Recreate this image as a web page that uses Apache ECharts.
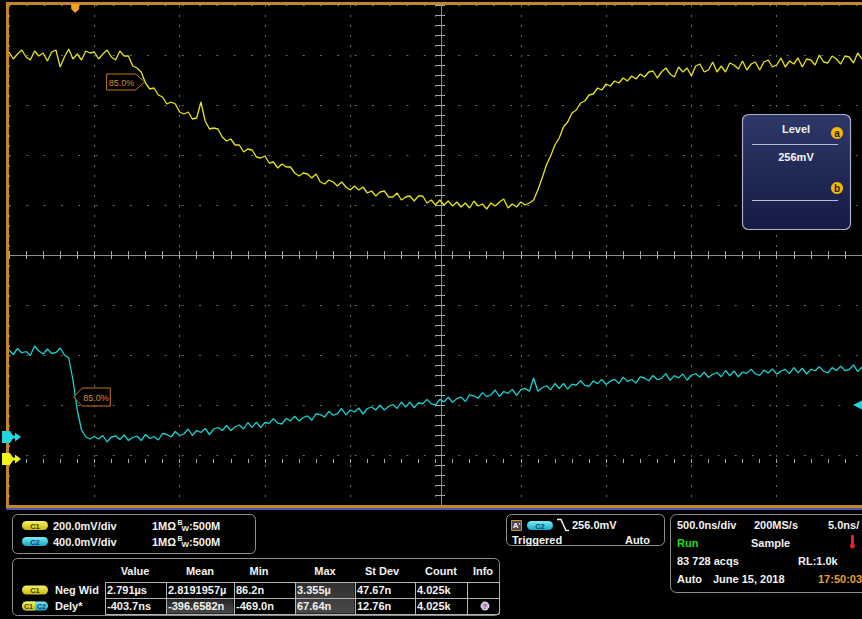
<!DOCTYPE html>
<html>
<head>
<meta charset="utf-8">
<script src="https://cdn.jsdelivr.net/npm/echarts@6/dist/echarts.min.js"></script>
<style>
  html, body { margin: 0; padding: 0; background: #000; overflow: hidden; }
  #scope { width: 862px; height: 619px; }
</style>
</head>
<body>
<div id="scope"></div>
<script>
// ---- Acquisition: 10 divisions of 500 ns, trace samples every 25 ns from the left edge ----
const SAMPLE_START_NS = -2500;
const SAMPLE_STEP_NS = 25;
const TIME_MIN_NS = -2500;
const TIME_MAX_NS = 2500;
const TIME_DIV_NS = 500;

// Channel 1 (yellow), mV
const ch1mV = [
  1628,1600,1620,1636,1608,1596,1632,1612,1624,1592,1628,1636,1568,1608,1640,1600,1620,1596,1632,1624,1628,1600,1620,1636,1608,1596,1632,1612,
  1612,1572,1564,1548,1504,1480,1484,1456,1448,1420,1428,1420,1388,1380,1388,1360,1364,1428,
  1352,1320,1324,1320,1288,1272,1280,1256,1256,1228,1240,1236,1208,1204,1212,1184,1188,1164,1180,1168,
  1168,1144,1132,1144,1140,1124,1140,1108,1100,1116,1108,1092,1108,1088,1076,1092,1076,1088,1064,1072,
  1052,1068,1072,1048,1048,1064,1036,1048,1052,1032,1052,1052,1024,1036,1016,
  1036,1016,1032,1012,1028,1008,1024,1004,1032,1012,1020,1000,1024,1012,1028,1040,1004,1020,1008,1028,1016,1024,
  1036,1076,1124,1176,1212,1256,1284,1328,1348,1384,1396,1424,1432,1456,1460,1484,1476,1500,1492,1512,1504,1524,1512,1532,1520,1540,1528,1548,
  1552,1524,1548,1564,1540,1528,1568,1548,1564,1532,1572,1580,1548,1556,1588,1548,1572,1548,1584,1576,
  1560,1592,1556,1580,1588,1556,1588,1596,1568,1576,1604,1568,1592,1580,1604,1568,1600,1596,1576,1616,
  1588,1584,1612,1600,1580,1612,1608,1584,1624,1600
];

// Channel 2 (cyan), mV
const ch2mV = [
  696,660,708,672,684,652,728,688,664,704,668,676,712,656,
  632,456,216,56,0,-16,
  4,-16,12,-40,0,8,-20,16,-28,-4,8,-28,20,
  -12,4,-24,28,20,0,44,12,24,64,12,52,
  36,68,20,64,76,52,92,52,80,96,64,116,
  77,118,75,116,109,146,111,104,148,129,166,
  127,156,169,134,186,179,160,205,174,187,228,176,
  216,200,232,184,228,240,216,256,216,244,260,228,
  280,239,279,234,274,266,301,265,256,
  301,281,318,278,307,319,284,337,329,310,355,323,336,376,
  324,364,349,381,333,377,389,366,472,366,394,410,
  377,429,388,428,383,423,414,450,413,405,448,
  427,461,420,447,461,428,479,445,460,431,481,472,
  450,492,458,469,507,453,491,473,504,454,496,
  506,480,518,476,502,516,482,532,490,528,482,520,
  509,543,504,493,535,512,545,503,528,541,507,556,
  513,550,504,541,530,563,525,514,555,532,566,531,540,577,523,560
];

// Vertical settings: mV per division and ground position (divisions from screen centre)
const ch1ScaleMv = 200;
const ch2ScaleMv = 400;
const ch1GroundDiv = -4.08;
const ch2GroundDiv = -3.64;

// Trigger and reference-level markers
const triggerTimeNs = -2112;
const triggerLevelMv = 256;
const refLabel = '85.0%';
const ch1RefPoint = [-1705, 1512];
const ch2RefPoint = [-2123, 320];

// Readout texts
const chLabels = ['C1', 'C2'];
const chScaleTexts = ['200.0mV/div', '400.0mV/div'];
const chImpedance = '1MΩ';
const chBandwidth = ':500M';
const trigSource = 'C2';
const trigLevelText = '256.0mV';
const trigState = ['Triggered', 'Auto'];
const horizRow1 = ['500.0ns/div', '200MS/s', '5.0ns/'];
const horizRow2 = ['Run', 'Sample'];
const horizRow3 = ['83 728 acqs', 'RL:1.0k'];
const horizRow4 = ['Auto', 'June 15, 2018', '17:50:03'];
const levelTitle = 'Level';
const levelValue = '256mV';
const measHeaders = ['Value', 'Mean', 'Min', 'Max', 'St Dev', 'Count', 'Info'];
const measSources = ['C1', 'both'];
const measNames = ['Neg Wid', 'Dely*'];
const measValues = [
  ['2.791µs', '2.8191957µ', '86.2n', '3.355µ', '47.67n', '4.025k'],
  ['-403.7ns', '-396.6582n', '-469.0n', '67.64n', '12.76n', '4.025k']
];

// ---------------------------------------------------------------------------
const FONT = 'bold 11px "Liberation Sans", Arial, sans-serif';
const GRID = { left: 9, top: 5, width: 864, height: 500 };
const ch1Data = ch1mV.map((v, i) => [SAMPLE_START_NS + i * SAMPLE_STEP_NS, v]);
const ch2Data = ch2mV.map((v, i) => [SAMPLE_START_NS + i * SAMPLE_STEP_NS, v]);

const tickStyle = { color: '#a8a8a8', width: 1 };
function timeAxis(extra) {
  return Object.assign({
    type: 'value', min: TIME_MIN_NS, max: TIME_MAX_NS, interval: TIME_DIV_NS,
    axisLabel: { show: false }, axisLine: { show: false },
    axisTick: { show: true, inside: true, length: 4, lineStyle: tickStyle },
    minorTick: { show: true, splitNumber: 5, length: 4, lineStyle: tickStyle },
    splitLine: { show: false }
  }, extra);
}
function divAxis(extra) {
  return Object.assign({
    type: 'value', min: -5, max: 5, interval: 1,
    axisLabel: { show: false }, axisLine: { show: false },
    axisTick: { show: true, inside: true, length: 4, lineStyle: tickStyle },
    minorTick: { show: true, splitNumber: 5, length: 4, lineStyle: tickStyle },
    splitLine: { show: false }
  }, extra);
}
const centreLine = { show: true, lineStyle: { color: '#8c8c8c', width: 1 } };

const chart = echarts.init(document.getElementById('scope'), null, { renderer: 'svg', width: 862, height: 619 });

chart.setOption({
  backgroundColor: '#000',
  animation: false,
  grid: { left: GRID.left, top: GRID.top, width: GRID.width, height: GRID.height, containLabel: false },
  xAxis: [
    timeAxis({ position: 'bottom',
      splitLine: { show: true, lineStyle: { color: '#6a6a6a', width: 1, type: [2, 8] } } }),
    timeAxis({ position: 'top' }),
    timeAxis({ position: 'bottom', offset: -GRID.height / 2, axisLine: centreLine }),
    timeAxis({ position: 'bottom', offset: -GRID.height / 2, axisLine: centreLine,
      axisTick: { show: true, inside: false, length: 4, lineStyle: tickStyle } })
  ],
  yAxis: [
    divAxis({ position: 'left',
      splitLine: { show: true, lineStyle: { color: '#6a6a6a', width: 1, type: [2, GRID.width / 50 - 2] } } }),
    { type: 'value', show: false,
      min: (-5 - ch1GroundDiv) * ch1ScaleMv, max: (5 - ch1GroundDiv) * ch1ScaleMv },
    { type: 'value', show: false,
      min: (-5 - ch2GroundDiv) * ch2ScaleMv, max: (5 - ch2GroundDiv) * ch2ScaleMv },
    divAxis({ position: 'left', offset: -GRID.width / 2, axisLine: centreLine }),
    divAxis({ position: 'left', offset: -GRID.width / 2, axisLine: centreLine,
      axisTick: { show: true, inside: false, length: 4, lineStyle: tickStyle } })
  ],
  series: [
    { name: 'C1', type: 'line', xAxisIndex: 0, yAxisIndex: 1, data: ch1Data,
      showSymbol: false, silent: true, z: 6,
      lineStyle: { color: '#e4e41c', width: 1.3 } },
    { name: 'C2', type: 'line', xAxisIndex: 0, yAxisIndex: 2, data: ch2Data,
      showSymbol: false, silent: true, z: 5,
      lineStyle: { color: '#1ccfd2', width: 1.3 } }
  ]
});

// ---- overlay drawing helpers ----
function T(x, y, text, o) {
  o = o || {};
  return { type: 'text', silent: true, z: 110,
    style: { x: x, y: y, text: text, fill: o.fill || '#f2f2f2', font: o.font || FONT,
      textAlign: o.align || 'left', textVerticalAlign: 'middle' } };
}
function R(x, y, w, h, o) {
  o = o || {};
  return { type: 'rect', silent: true, z: o.z || 100,
    shape: { x: x, y: y, width: w, height: h, r: o.r || 0 },
    style: { fill: o.fill || 'none', stroke: o.stroke || null, lineWidth: o.lw || 1 } };
}
function P(points, o) {
  return { type: 'polygon', silent: true, z: o.z || 105,
    shape: { points: points },
    style: { fill: o.fill || 'none', stroke: o.stroke || null, lineWidth: o.lw || 1 } };
}
function L(x1, y1, x2, y2, color, w) {
  return { type: 'line', silent: true, z: 105,
    shape: { x1: x1, y1: y1, x2: x2, y2: y2 }, style: { stroke: color, lineWidth: w || 1 } };
}
function C(cx, cy, r, fill, stroke) {
  return { type: 'circle', silent: true, z: 105,
    shape: { cx: cx, cy: cy, r: r }, style: { fill: fill, stroke: stroke || null, lineWidth: 1 } };
}
function grad(top, bottom) {
  return new echarts.graphic.LinearGradient(0, 0, 0, 1, [{ offset: 0, color: top }, { offset: 1, color: bottom }]);
}
const yellowPill = () => grad('#f6f070', '#c9bb00');
const cyanPill = () => grad('#7aeef6', '#12a9c4');
const PILL_FONT = 'bold 7.5px "Liberation Sans", Arial';
function pill(x, y, kind) {
  const out = [];
  if (kind === 'both') {
    out.push(R(x, y, 26, 9, { r: 4.5, fill: cyanPill(), z: 106 }));
    out.push(R(x, y, 13, 9, { r: [4.5, 0, 0, 4.5], fill: yellowPill(), z: 107 }));
    out.push(T(x + 6.5, y + 5, 'C1', { font: 'bold 7px "Liberation Sans", Arial', fill: '#3b3b10', align: 'center' }));
    out.push(T(x + 19.5, y + 5, 'C2', { font: 'bold 7px "Liberation Sans", Arial', fill: '#163a78', align: 'center' }));
  } else {
    const isC1 = kind === 'C1';
    out.push(R(x, y, 26, 9, { r: 4.5, fill: isC1 ? yellowPill() : cyanPill(), z: 106 }));
    out.push(T(x + 13, y + 5, kind, { font: PILL_FONT, fill: isC1 ? '#3b3b10' : '#163a78', align: 'center' }));
  }
  return out;
}

const g = [];
const PANEL = '#8e8e8e';
const ORANGE = '#c4862c';

// screen frame
g.push(R(6, 2, 860, 3, { fill: ORANGE }));
g.push(R(6, 2, 3, 506, { fill: ORANGE }));
g.push(R(6, 505, 860, 3, { fill: ORANGE }));
g.push(R(6, 508, 860, 2, { fill: '#4d58a6' }));

// markers positioned through the series' own axes
const px1 = (t, v) => chart.convertToPixel({ seriesIndex: 0 }, [t, v]);
const px2 = (t, v) => chart.convertToPixel({ seriesIndex: 1 }, [t, v]);

function groundArrow(y, color) {
  return P([[2, y - 6], [10, y - 6], [13, y - 1.5], [15, y - 1.5], [15, y - 4.5], [21, y],
            [15, y + 4.5], [15, y + 1.5], [13, y + 1.5], [10, y + 6], [2, y + 6]], { fill: color, z: 108 });
}
g.push(groundArrow(px2(0, 0)[1], '#22d6e0'));
g.push(groundArrow(px1(0, 0)[1], '#f2f21c'));

const trigY = px2(0, triggerLevelMv)[1];
g.push(P([[862, trigY - 4.5], [853, trigY], [862, trigY + 4.5]], { fill: '#22d6e0', z: 108 }));

const trigX = px1(triggerTimeNs, 0)[0];
g.push(P([[trigX - 4, 4], [trigX + 4, 4], [trigX + 4, 9], [trigX, 13], [trigX - 4, 9]], { fill: '#f2a21e', z: 108 }));

// reference-level flags
const r1 = px1(ch1RefPoint[0], ch1RefPoint[1]);
g.push(P([[r1[0] - 38, r1[1] - 7], [r1[0] - 9, r1[1] - 7], [r1[0], r1[1] + 1], [r1[0] - 9, r1[1] + 9], [r1[0] - 38, r1[1] + 9]],
  { fill: 'rgba(0,0,0,0.6)', stroke: '#c27a1c', z: 104 }));
g.push(T(r1[0] - 36, r1[1] + 1.5, refLabel, { font: '9px "Liberation Sans", Arial', fill: '#d48c30' }));
const r2 = px2(ch2RefPoint[0], ch2RefPoint[1]);
g.push(P([[r2[0], r2[1]], [r2[0] + 9, r2[1] - 9], [r2[0] + 37, r2[1] - 9], [r2[0] + 37, r2[1] + 9], [r2[0] + 9, r2[1] + 9]],
  { fill: 'rgba(0,0,0,0.6)', stroke: '#c27a1c', z: 104 }));
g.push(T(r2[0] + 10, r2[1] + 0.5, refLabel, { font: '9px "Liberation Sans", Arial', fill: '#d48c30' }));

// level readout box
g.push(R(742.5, 114.5, 108, 115, { r: 6, fill: grad('#2e3868', '#151b45'), stroke: '#aab0c6', lw: 1.2 }));
g.push(T(796, 129, levelTitle, { align: 'center' }));
g.push(L(752, 144.5, 838, 144.5, '#b9bdd0', 1));
g.push(T(796, 157, levelValue, { align: 'center' }));
g.push(L(752, 200.5, 838, 200.5, '#b9bdd0', 1));
g.push(C(837, 133, 6, '#f5b800'));
g.push(T(837, 133.5, 'a', { align: 'center', fill: '#2a1a00', font: 'bold 10px "Liberation Sans", Arial' }));
g.push(C(837, 188, 6, '#f5b800'));
g.push(T(837, 188.5, 'b', { align: 'center', fill: '#2a1a00', font: 'bold 10px "Liberation Sans", Arial' }));

// channel readout
g.push(R(12.5, 514.5, 243, 39, { r: 5, stroke: PANEL }));
[525.5, 541.5].forEach((y, i) => {
  g.push(...pill(22, y - 4.5, chLabels[i]));
  g.push(T(53, y, chScaleTexts[i]));
  g.push(T(152, y, chImpedance));
  g.push(T(177.5, y - 3, 'B', { font: 'bold 7px "Liberation Sans", Arial' }));
  g.push(T(181.5, y + 2.5, 'W', { font: 'bold 8px "Liberation Sans", Arial' }));
  g.push(T(189, y, chBandwidth));
});

// trigger readout
g.push(R(506.5, 514.5, 158, 31, { r: 5, stroke: PANEL }));
g.push(R(511.5, 520.5, 10, 10, { fill: '#4a4a4a', stroke: '#e08a1c' }));
g.push(T(516.5, 525.5, "A'", { align: 'center', font: 'bold 8px "Liberation Sans", Arial' }));
g.push(...pill(527, 521, trigSource));
g.push({ type: 'polyline', silent: true, z: 105,
  shape: { points: [[557, 519.5], [561, 519.5], [566, 530.5], [569, 530.5]] },
  style: { stroke: '#f2f2f2', lineWidth: 1.5, fill: 'none' } });
g.push(T(572, 525, trigLevelText));
g.push(T(512, 539.5, trigState[0]));
g.push(T(650, 539.5, trigState[1], { align: 'right' }));

// horizontal / acquisition readout
g.push(R(670.5, 514.5, 210, 78, { r: 6, stroke: PANEL }));
g.push(T(677, 524.5, horizRow1[0]));
g.push(T(754, 524.5, horizRow1[1]));
g.push(T(828, 524.5, horizRow1[2]));
g.push(T(677, 542.5, horizRow2[0], { fill: '#22dd22' }));
g.push(T(751, 542.5, horizRow2[1]));
g.push(R(851, 535, 3, 10, { fill: '#e62020', r: 1 }));
g.push(C(852.5, 546, 2.5, '#e62020'));
g.push(T(677, 561, horizRow3[0]));
g.push(T(798, 561, horizRow3[1]));
g.push(T(677, 578.5, horizRow4[0]));
g.push(T(713, 578.5, horizRow4[1]));
g.push(T(818, 578.5, horizRow4[2], { fill: '#e8a020' }));

// measurement table
g.push(R(12.5, 558.5, 487, 57, { r: 5, stroke: PANEL }));
const colEdges = [105, 166, 234, 295, 355, 415, 467, 499];
const headerX = [135, 200, 259, 325, 382, 441, 483];
const rowTop = [582, 598];
measHeaders.forEach((h, i) => g.push(T(headerX[i], 571, h, { align: 'center' })));
// shaded cells (Mean row 2, Max both rows)
g.push(R(166.5, 598.5, 67, 15, { fill: grad('#242424', '#4a4a4a'), z: 99 }));
g.push(R(295.5, 582.5, 59, 31, { fill: grad('#303030', '#4a4a4a'), z: 99 }));
rowTop.forEach((y, r) => {
  g.push(...pill(22, y + 3.5, measSources[r]));
  g.push(T(55, y + 8, measNames[r]));
  measValues[r].forEach((v, c) => g.push(T(colEdges[c] + 2, y + 8, v)));
});
for (let r = 0; r < 3; r++) g.push(L(105, 582.5 + r * 16, 499, 582.5 + r * 16, '#b4b4b4', 1));
colEdges.forEach(x => g.push(L(x + 0.5, 582, x + 0.5, 614, '#b4b4b4', 1)));
g.push(C(485, 606, 4, '#c4bde0', '#eeeeff'));
g.push(T(485, 606.5, '?', { align: 'center', fill: '#c02a7a', font: 'bold 7px "Liberation Sans", Arial' }));

chart.setOption({ graphic: { elements: g } });
</script>
</body>
</html>
